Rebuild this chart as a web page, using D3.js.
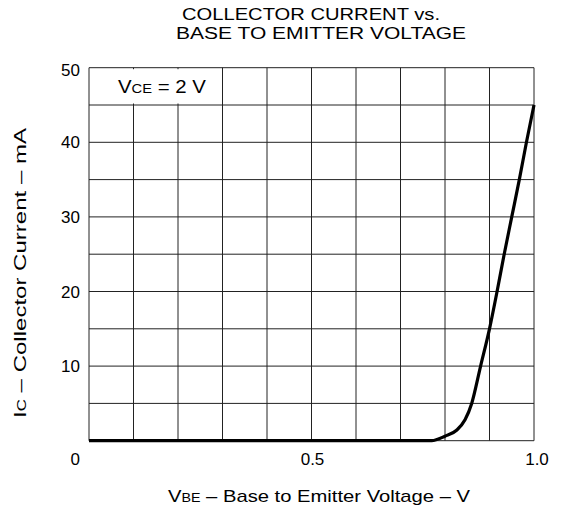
<!DOCTYPE html>
<html>
<head>
<meta charset="utf-8">
<script src="https://cdn.jsdelivr.net/npm/d3@7"></script>
<style>
  body { margin: 0; background: #fff; }
  svg { display: block; }
</style>
</head>
<body>
<svg id="chart" width="562" height="515"></svg>
<script>
// values (V, mA)
const vbe = [0, 0.77, 0.80, 0.826, 0.845, 0.86, 0.88, 0.90, 0.917, 0.933, 0.95, 0.967, 0.983, 1.0];
const ic  = [0, 0,    0.6,  1.4,   2.8,   5,    10,   15,   20,    25,    30,   35,    40,    45];

const xGrid = d3.range(0, 1.0001, 0.1);
const yGrid = d3.range(0, 50.001, 5);
const xTickVals = [0.5, 1.0];
const xTickText = ["0.5", "1.0"];
const yTickVals = [10, 20, 30, 40, 50];

const svg = d3.select("#chart")
  .attr("font-family", "'Liberation Sans', Arial, sans-serif")

const margin = {top: 67.7, left: 89, right: 28, bottom: 74.3};
const width = 562 - margin.left - margin.right;   // 445
const height = 515 - margin.top - margin.bottom;  // 373

const x = d3.scaleLinear().domain([0, 1]).range([margin.left, margin.left + width]);
const y = d3.scaleLinear().domain([0, 50]).range([margin.top + height, margin.top]);

// grid
const grid = svg.append("g").attr("stroke", "#222").attr("stroke-width", 1);
grid.selectAll(".vl").data(xGrid).enter().append("line")
  .attr("x1", d => x(d)).attr("x2", d => x(d))
  .attr("y1", y(0)).attr("y2", y(50));
grid.selectAll(".hl").data(yGrid).enter().append("line")
  .attr("x1", x(0)).attr("x2", x(1))
  .attr("y1", d => y(d)).attr("y2", d => y(d));

// white box for the V_CE note (top-left three cells)
svg.append("rect")
  .attr("x", x(0) + 1.5).attr("y", y(50) + 1.5)
  .attr("width", x(0.3) - x(0) - 3).attr("height", y(45) - y(50) - 3)
  .attr("fill", "#fff");

const note = svg.append("text")
  .attr("x", 118).attr("y", 93)
  .attr("font-size", 18)
  .attr("textLength", 88).attr("lengthAdjust", "spacingAndGlyphs");
note.append("tspan").text("V");
note.append("tspan").attr("font-size", 13).text("CE");
note.append("tspan").text(" = 2 V");

// curve
const line = d3.line()
  .x((d, i) => x(vbe[i]))
  .y(d => y(d))
  .curve(d3.curveMonotoneX);

svg.append("path")
  .attr("d", line(ic))
  .attr("fill", "none")
  .attr("stroke", "#000")
  .attr("stroke-width", 3.2)
  .attr("stroke-linejoin", "round");

// tick labels
svg.selectAll(".yt").data(yTickVals).enter().append("text")
  .attr("x", 80)
  .attr("y", d => d === 50 ? y(d) + 8 : y(d) + 6)
  .attr("text-anchor", "end")
  .attr("font-size", 17)
  .text(d => d);

svg.selectAll(".xt").data(xTickVals).enter().append("text")
  .attr("x", d => x(d) + (d === 1 ? 3 : 1))
  .attr("y", 465)
  .attr("text-anchor", "middle")
  .attr("font-size", 17)
  .text((d, i) => xTickText[i]);

svg.append("text")
  .attr("x", 80).attr("y", 465)
  .attr("text-anchor", "end")
  .attr("font-size", 17)
  .text("0");

// title
svg.append("text")
  .attr("x", 182).attr("y", 20)
  .attr("font-size", 16)
  .attr("textLength", 258).attr("lengthAdjust", "spacingAndGlyphs")
  .text("COLLECTOR CURRENT vs.");
svg.append("text")
  .attr("x", 176).attr("y", 38.5)
  .attr("font-size", 16)
  .attr("textLength", 290).attr("lengthAdjust", "spacingAndGlyphs")
  .text("BASE TO EMITTER VOLTAGE");

// x label
const xl = svg.append("text")
  .attr("x", 168).attr("y", 502)
  .attr("font-size", 17)
  .attr("textLength", 302).attr("lengthAdjust", "spacingAndGlyphs");
xl.append("tspan").text("V");
xl.append("tspan").attr("font-size", 12).text("BE");
xl.append("tspan").text(" \u2013 Base to Emitter Voltage \u2013 V");

// y label
const yl = svg.append("text")
  .attr("transform", "translate(26,418) rotate(-90)")
  .attr("font-size", 17)
  .attr("textLength", 290).attr("lengthAdjust", "spacingAndGlyphs");
yl.append("tspan").text("I");
yl.append("tspan").attr("font-size", 12).text("C");
yl.append("tspan").text(" \u2013 Collector Current \u2013 mA");
</script>
</body>
</html>
